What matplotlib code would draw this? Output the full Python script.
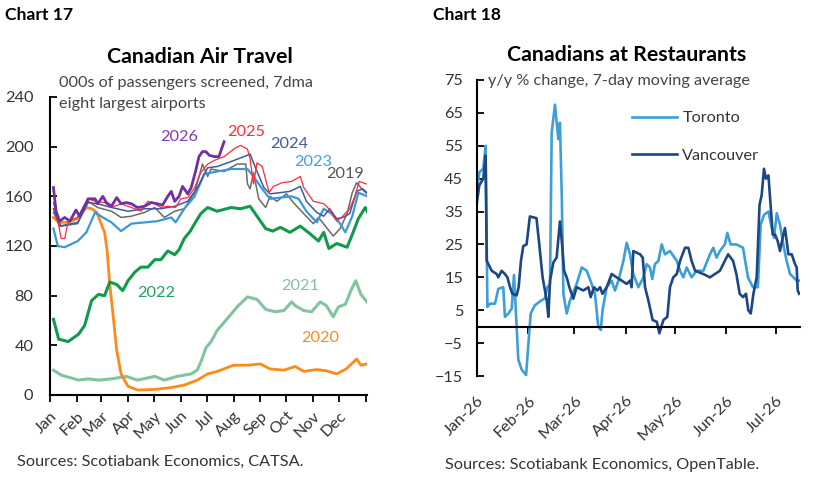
import matplotlib
matplotlib.use('Agg')
import matplotlib.pyplot as plt

plt.rcParams['font.family'] = ['Lato', 'DejaVu Sans']

# ---- Chart 17 data: day of year, 000s passengers (7dma) ----
d2026 = [4, 7, 11, 17, 23, 30, 34, 44, 52, 55, 61, 65, 71, 77, 82, 88, 94, 101, 109, 117, 124, 130, 136, 140, 144, 149, 153, 159, 163, 168, 172, 176, 180, 184, 190, 195, 197, 201]
v2026 = [167, 148, 140, 143, 140, 149, 144, 158, 158, 154, 160, 155, 152, 159, 154, 155, 154, 151, 152, 155, 154, 153, 160, 164, 156, 160, 168, 162, 167, 180, 192, 196, 196, 193, 192, 192, 196, 204]

d2025 = [4, 9, 13, 17, 21, 32, 44, 52, 63, 71, 82, 94, 105, 113, 121, 128, 136, 145, 151, 159, 167, 174, 182, 190, 201, 214, 220, 228, 231, 235, 239, 245, 253, 258, 268, 279, 289, 293, 304, 316, 322, 331, 338, 346, 352, 357, 365]
v2025 = [155, 140, 126, 126, 140, 143, 158, 156, 155, 151, 154, 151, 148, 156, 154, 151, 152, 151, 158, 159, 167, 179, 186, 189, 192, 199, 201, 198, 190, 170, 187, 184, 163, 168, 171, 172, 176, 167, 156, 154, 150, 140, 144, 150, 160, 172, 170]

d2024 = [4, 11, 32, 44, 55, 71, 90, 109, 128, 144, 159, 171, 182, 193, 209, 224, 231, 239, 247, 254, 266, 277, 289, 296, 308, 316, 323, 331, 338, 346, 354, 361, 366]
v2024 = [150, 136, 139, 155, 154, 151, 148, 150, 150, 152, 156, 168, 183, 184, 188, 192, 194, 180, 167, 162, 163, 164, 168, 156, 147, 144, 150, 142, 143, 146, 164, 166, 163]

d2023 = [4, 9, 17, 32, 42, 52, 61, 71, 82, 94, 109, 124, 140, 145, 155, 167, 178, 193, 209, 228, 235, 245, 254, 266, 279, 287, 296, 308, 316, 325, 335, 341, 349, 356, 366]
v2023 = [134, 120, 119, 124, 131, 147, 143, 139, 132, 138, 139, 140, 143, 139, 150, 160, 178, 180, 182, 182, 176, 166, 158, 159, 160, 158, 148, 139, 150, 146, 138, 131, 144, 163, 160]

d2019 = [4, 13, 32, 44, 55, 71, 82, 94, 109, 121, 132, 144, 155, 167, 176, 182, 186, 201, 216, 226, 228, 231, 235, 241, 249, 254, 262, 273, 281, 293, 304, 310, 318, 327, 335, 343, 349, 354, 360, 366]
v2019 = [147, 136, 138, 156, 151, 148, 143, 144, 147, 151, 143, 148, 150, 163, 186, 176, 182, 180, 186, 186, 170, 166, 179, 158, 151, 160, 156, 162, 155, 146, 138, 143, 136, 128, 134, 146, 163, 171, 166, 162]

d2022 = [4, 10, 21, 33, 40, 48, 56, 63, 69, 77, 84, 90, 98, 105, 113, 121, 128, 136, 144, 149, 155, 162, 167, 174, 182, 193, 209, 220, 231, 239, 249, 257, 266, 277, 289, 300, 310, 316, 322, 331, 343, 350, 356, 364, 367]
v2022 = [61, 45, 43, 49, 56, 76, 81, 80, 91, 89, 84, 92, 99, 103, 103, 109, 109, 116, 113, 117, 126, 132, 138, 146, 151, 148, 151, 150, 152, 144, 134, 132, 135, 131, 136, 130, 124, 131, 118, 122, 119, 131, 142, 151, 147]

d2021 = [4, 13, 33, 44, 56, 71, 88, 101, 121, 132, 147, 163, 170, 175, 180, 186, 193, 209, 216, 228, 239, 249, 260, 270, 279, 283, 293, 302, 312, 319, 327, 333, 341, 348, 353, 359, 366]
v2021 = [20, 16, 12, 13, 12, 13, 15, 12, 15, 12, 15, 17, 20, 28, 38, 43, 52, 65, 71, 79, 77, 69, 67, 68, 75, 72, 68, 67, 75, 72, 63, 71, 73, 85, 92, 81, 75]

d2020 = [4, 10, 21, 31, 36, 42, 48, 54, 59, 63, 66, 69, 73, 77, 82, 90, 101, 121, 140, 155, 170, 182, 193, 212, 228, 243, 254, 270, 283, 293, 308, 319, 331, 342, 354, 359, 366]
v2020 = [143, 139, 139, 142, 146, 151, 150, 147, 138, 131, 116, 89, 63, 36, 17, 7, 4, 4.5, 6, 8, 12, 17, 19, 24, 24, 25, 21, 20, 23, 19, 20.5, 19.5, 17, 21, 29, 24, 25]

month_days = [0, 31, 59, 90, 120, 151, 181, 212, 243, 273, 304, 334, 365]
month_labels = ['Jan', 'Feb', 'Mar', 'Apr', 'May', 'Jun', 'Jul', 'Aug', 'Sep', 'Oct', 'Nov', 'Dec', '']

# ---- Chart 18 data: days since Jan 1 2026, y/y % change ----
tor_day = [0, 1.5, 3.8, 5.2, 6.3, 7.9, 10.9, 12.9, 15.9, 16.9, 19, 21, 22.4, 25, 27, 29.7, 31, 32.5, 35, 39, 41, 42.6, 44.2,
           45.2, 47.2, 49.2, 50.2, 51.3, 52.3, 54.3, 56.3, 60.3, 63.4, 66.4, 69.4, 71.4, 73.4, 74.9, 76, 78.5, 81.5, 83.5,
           85.6, 88.6, 90.6, 92.6, 94.6, 97.7, 100.7, 102.7, 104.7, 106.1, 107.7, 109.8, 111.8, 113.8, 116.8, 120.9,
           122.9, 124.9, 126.9, 129.9, 133, 137, 141, 143, 145, 147, 150, 151.5, 153.5, 157, 161, 164, 167, 170, 171.7,
           173.7, 176.4, 178.4, 179.8, 181.4, 183.4, 185.4, 187.4, 189.5, 191.5, 193.5, 195]
tor_val = [42, 47, 48, 55, 6, 7, 7, 11.5, 12, 3, 4, 5.5, 15.7, -10, -13, -14.7, -6, 4, 6.5, 8, 8.5, 12, 13,
           59, 67.5, 57, 62, 40, 10, 4, 8, 13, 18, 17, 13, 10, 0, -1, 5, 12, 14, 11,
           14, 20, 25.5, 22, 16, 12, 15, 19, 18, 14.5, 19, 20, 25, 22, 23, 20,
           17, 15, 18, 15, 17, 17, 22, 24, 21, 23, 25, 28.5, 25, 25, 24, 15, 12, 12, 31,
           34, 35, 30, 27, 34.5, 31, 25, 20, 16, 15, 14, 14]

van_day = [0, 1.4, 3.8, 5.2, 5.9, 8.9, 11.9, 12.9, 14.9, 16.9, 18.4, 20, 21.4, 24, 25.2, 26.6, 28, 30, 32, 36, 37.7, 39.7,
           42.2, 43.2, 44.2, 46.2, 48.2, 50.2, 51.5, 52.7, 54.3, 55.9, 58.3, 60.3, 64.4, 67.4, 68.8, 70.8, 72.8, 74.5,
           75.9, 78.5, 81.5, 84.5, 87.6, 90.6, 92.6, 93.6, 94.6, 98.7, 100.3, 101.7, 103.7, 106.3, 108.8, 110.4, 112.8,
           115.2, 116.8, 118.8, 120.9, 122.9, 125.9, 127.9, 129.9, 132, 137, 141, 144, 147, 149, 152, 155, 157, 159,
           161, 162.8, 164.2, 165.7, 167.3, 169.3, 171, 172.3, 173.7, 174.9, 176.4, 179, 180.4, 182, 183.4, 185,
           186.4, 188.5, 190.5, 192.5, 193.5, 194.1, 195]
van_val = [38, 43, 45, 52, 20, 17, 16, 15, 17, 16, 15, 12, 10, 9.5, 12, 20, 24.5, 25, 33.5, 33, 25, 15,
           8, 3, 14, 19.5, 21, 32, 25, 17, 15, 12, 8.5, 12, 11, 12, 9, 12, 11, 12,
           10, 12, 16, 15, 14, 13, 14, 12, 23, 22, 21, 12, 8, 2, 1.5, -2, 2,
           3, 12, 15, 16, 20, 24, 24, 20, 17, 16, 15, 16, 17, 19, 22, 20, 16, 10,
           9, 10, 5, 4, 10, 15, 37, 40, 48, 45, 46, 28, 28, 26, 23, 27,
           30, 22, 22, 19, 18, 11, 10]

r_month_days = [0, 31, 59, 90, 120, 151, 181]
r_month_labels = ['Jan-26', 'Feb-26', 'Mar-26', 'Apr-26', 'May-26', 'Jun-26', 'Jul-26']

W, H = 828, 483
fig = plt.figure(figsize=(W / 100, H / 100), dpi=100)
txt = '#333333'
fs = 11.7

# ---------------- Chart 17 ----------------
ax1 = fig.add_axes([50 / W, 1 - 395 / H, 317 / W, 298 / H])
ax1.plot(d2021, v2021, color='#82c3a0', lw=2.2)
ax1.plot(d2020, v2020, color='#ff8a1c', lw=2.0)
ax1.plot(d2022, v2022, color='#129a4c', lw=2.2)
ax1.plot(d2019, v2019, color='#6a6a6a', lw=1.1)
ax1.plot(d2023, v2023, color='#3a98d8', lw=1.6)
ax1.plot(d2024, v2024, color='#3d5c99', lw=1.1)
ax1.plot(d2025, v2025, color='#ff2a3c', lw=0.9)
ax1.plot(d2026, v2026, color='#7030a0', lw=2.0)

labs = [(149, 208, '2026', '#7b3cb0'), (226, 212, '2025', '#ff2a3c'), (276, 202, '2024', '#3d5c99'),
        (304, 188, '2023', '#3fa0e0'), (341, 178, '2019', '#555555'), (123, 82, '2022', '#1fa05c'),
        (289, 88, '2021', '#82c3a0'), (312, 46, '2020', '#ff8a1c')]
for x, y, s, c in labs:
    ax1.text(x, y, s, color=c, fontsize=fs, ha='center', va='center')

ax1.set_xlim(0, 366)
ax1.set_ylim(0, 240)
ax1.set_yticks(range(0, 241, 40))
ax1.set_xticks(month_days)
ax1.set_xticklabels(month_labels, rotation=45, ha='right', rotation_mode='anchor')
ax1.tick_params(axis='y', direction='in', length=5, width=1.3, pad=12, labelsize=fs, labelcolor=txt)
ax1.tick_params(axis='x', direction='out', length=5, width=1.3, pad=5, labelsize=fs, labelcolor=txt)
for s in ['top', 'right']:
    ax1.spines[s].set_visible(False)
for s in ['left', 'bottom']:
    ax1.spines[s].set_linewidth(1.5)

fig.text(5 / W, 1 - 15 / H, 'Chart 17', fontsize=12.6, weight='bold', va='center')
fig.text(200 / W, 1 - 57 / H, 'Canadian Air Travel', fontsize=15.3, weight='bold', ha='center', va='center')
fig.text(59 / W, 1 - 83 / H, '000s of passengers screened, 7dma', fontsize=fs, color='#444444', va='center')
fig.text(59 / W, 1 - 104 / H, 'eight largest airports', fontsize=fs, color='#444444', va='center')
fig.text(17 / W, 1 - 462 / H, 'Sources: Scotiabank Economics, CATSA.', fontsize=fs, color=txt, va='center')

# ---------------- Chart 18 ----------------
ax2 = fig.add_axes([477 / W, 1 - 376 / H, 323 / W, 296 / H])
ax2.spines['bottom'].set_position(('data', 0))
ax2.plot(tor_day, tor_val, color='#3d9fd8', lw=1.9, label='Toronto')
ax2.plot(van_day, van_val, color='#1c4785', lw=1.9, label='Vancouver')
ax2.set_xlim(0, 195.5)
ax2.set_ylim(-15, 75)
ax2.set_yticks(range(-15, 76, 10))
ax2.set_xticks(r_month_days)
ax2.set_xticklabels(r_month_labels, rotation=45, ha='right', rotation_mode='anchor')
for s in ['top', 'right']:
    ax2.spines[s].set_visible(False)
for s in ['left', 'bottom']:
    ax2.spines[s].set_linewidth(1.5)
ax2.tick_params(axis='y', direction='in', length=5, width=1.3, pad=10, labelsize=fs, labelcolor=txt)
ax2.tick_params(axis='x', direction='out', length=5, width=1.3, pad=43, labelsize=fs, labelcolor=txt)
ax2.legend(loc='upper left', bbox_to_anchor=(632 / W, 1 - 111 / H), bbox_transform=fig.transFigure,
           frameon=False, fontsize=fs, handlelength=2.75, handletextpad=0.35, labelspacing=1.4,
           borderpad=0, borderaxespad=0, labelcolor=txt)

fig.text(433 / W, 1 - 15 / H, 'Chart 18', fontsize=12.6, weight='bold', va='center')
fig.text(627 / W, 1 - 55 / H, 'Canadians at Restaurants', fontsize=15.3, weight='bold', ha='center', va='center')
fig.text(488 / W, 1 - 81 / H, 'y/y % change, 7-day moving average', fontsize=fs, color='#444444', va='center')
fig.text(445 / W, 1 - 465 / H, 'Sources: Scotiabank Economics, OpenTable.', fontsize=fs, color=txt, va='center')

fig.savefig('out.png', dpi=100)
